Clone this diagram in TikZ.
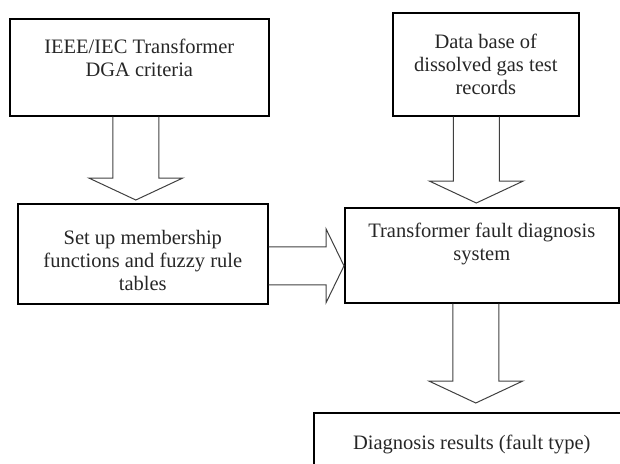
\documentclass[tikz,border=0pt]{standalone}
\usepackage{fontspec}
\setmainfont{Liberation Serif}
\usetikzlibrary{calc}
\tikzset{%
  box/.style={rectangle,draw=black,line width=1.6pt,align=center,anchor=north west,inner sep=0pt,font=\fontsize{20.5}{23}\selectfont,text=black!85},
  hollow/.style={draw=black!75,line width=1pt,line join=miter}%
}
% fat hollow arrows: #1 start of shaft, #2 tip
\newcommand{\fatdown}[2]{%
  \draw[hollow] let \p1=(#1), \p2=(#2) in
    (\x1-23pt,\y1) -- (\x1-23pt,\y2+22pt) -- (\x1-47pt,\y2+22pt) -- (\x1,\y2)
    -- (\x1+47pt,\y2+22pt) -- (\x1+23pt,\y2+22pt) -- (\x1+23pt,\y1);}
\newcommand{\fatright}[2]{%
  \draw[hollow] let \p1=(#1), \p2=(#2) in
    (\x1,\y1+19pt) -- (\x2-18pt,\y1+19pt) -- (\x2-18pt,\y1+37pt) -- (\x2,\y1)
    -- (\x2-18pt,\y1-37pt) -- (\x2-18pt,\y1-19pt) -- (\x1,\y1-19pt);}

\begin{document}
\begin{tikzpicture}[x=1pt,y=-1pt]
  \useasboundingbox (0,0) rectangle (620,463);
  \clip (0,0) rectangle (620,463);

  \node (dga_criteria) [box,minimum width=259pt,minimum height=97pt] at (9,18)
    {IEEE/IEC Transformer\\DGA criteria\rule[-19pt]{0pt}{19pt}};
  \node (gas_records) [box,minimum width=186pt,minimum height=103pt] at (392,12)
    {Data base of\\dissolved gas test\\records};
  \node (fuzzy_rules) [box,minimum width=250pt,minimum height=100pt] at (17,203)
    {\rule{0pt}{28pt}Set up membership\\functions and fuzzy rule\\tables};
  \node (diag_system) [box,minimum width=274pt,minimum height=95pt] at (344,207)
    {Transformer fault diagnosis\\system\rule[-27pt]{0pt}{27pt}};
  \node (diag_results) [box,minimum width=316pt,minimum height=64pt] at (313,412)
    {Diagnosis results (fault type)};

  \fatdown{$(dga_criteria.south)+(-3.5,0)$}{$(fuzzy_rules.north)+(0,-3)$}
  \fatdown{$(gas_records.south)+(-9.5,0)$}{$(diag_system.north)+(0,-4)$}
  \fatright{$(fuzzy_rules.east)+(0,12)$}{diag_system.west}
  \fatdown{$(diag_system.south)+(-6,0)$}{$(diag_results.north)+(0,-9)$}

\end{tikzpicture}
\end{document}
